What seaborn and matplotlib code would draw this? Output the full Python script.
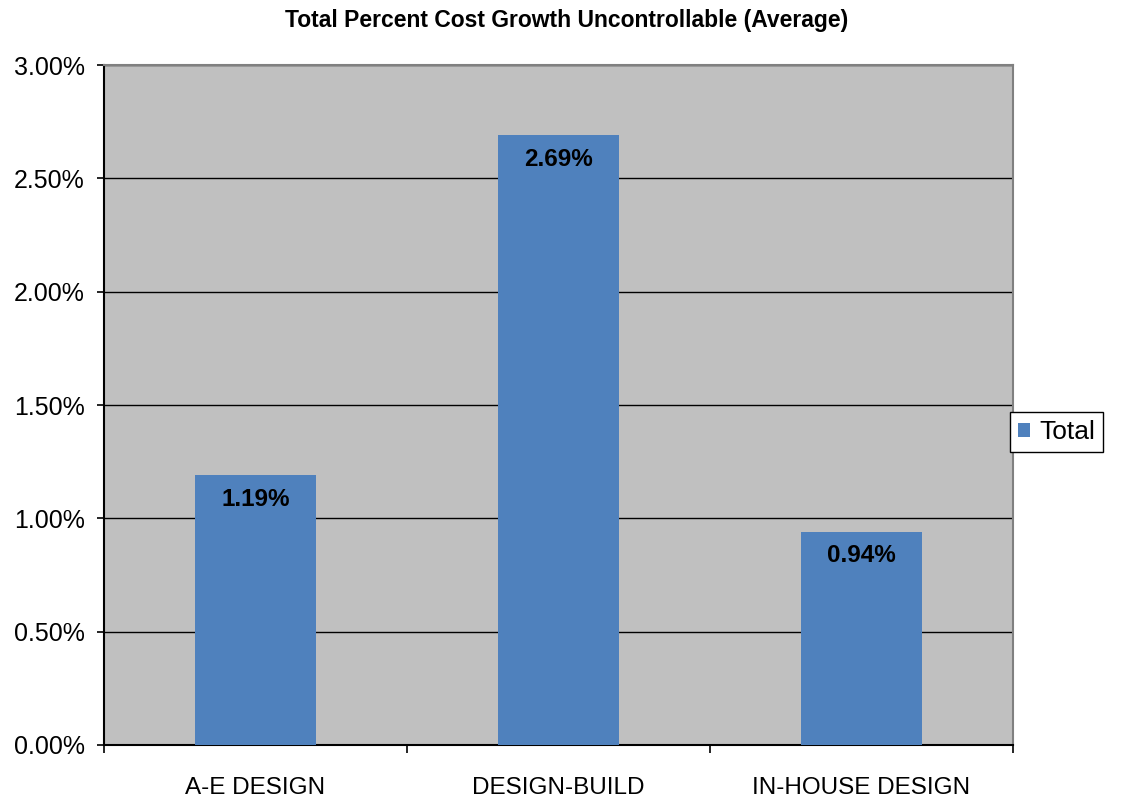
import pandas as pd
import matplotlib.pyplot as plt
import seaborn as sns
from matplotlib.ticker import FuncFormatter, MultipleLocator
from matplotlib.patches import Patch

# Data
categories = ['A-E DESIGN', 'DESIGN-BUILD', 'IN-HOUSE DESIGN']
totals = [1.19, 2.69, 0.94]
bar_labels = ['1.19%', '2.69%', '0.94%']

df = pd.DataFrame({'category': categories, 'total': totals})

sns.set_style('white')
plt.rcParams['font.family'] = ['Liberation Sans', 'DejaVu Sans']
plt.rcParams['text.color'] = 'black'
plt.rcParams['xtick.color'] = 'black'
plt.rcParams['ytick.color'] = 'black'

fig = plt.figure(figsize=(11.25, 7.98), dpi=100)
ax = fig.add_axes([104 / 1125, 1 - 745 / 798, (1013 - 104) / 1125, (745 - 65) / 798])
ax.set_facecolor('#C0C0C0')

sns.barplot(data=df, x='category', y='total', color='#4F81BD', width=0.4,
            saturation=1, linewidth=0, edgecolor='none', ax=ax, zorder=3)

# value labels inside the top of each bar
for i, (v, lab) in enumerate(zip(totals, bar_labels)):
    ax.text(i, v - 0.055, lab, ha='center', va='top', fontsize=17.5,
            fontweight='bold', color='black', zorder=4)

ax.set_ylim(0, 3.0)
ax.set_xlim(-0.5, 2.5)
ax.yaxis.set_major_locator(MultipleLocator(0.5))
ax.yaxis.set_major_formatter(FuncFormatter(lambda v, p: f'{v:.2f}%'))
ax.grid(axis='y', color='black', linewidth=1, zorder=1)
ax.set_axisbelow(True)

# ticks at category boundaries, labels at centres
ax.set_xticks([-0.5, 0.5, 1.5, 2.5])
ax.set_xticklabels([])
ax.set_xticks([0, 1, 2], minor=True)
ax.set_xticklabels(categories, minor=True, fontsize=17.5)
ax.tick_params(axis='x', which='major', direction='out', length=6, width=1.2,
               color='black', bottom=True)
ax.tick_params(axis='x', which='minor', length=0, pad=23)
ax.tick_params(axis='y', direction='out', length=5, width=1.2, color='black',
               left=True, labelsize=18, labelcolor='black', pad=9)
ax.set_xlabel('')
ax.set_ylabel('')

for side in ['left', 'bottom']:
    ax.spines[side].set_color('black')
    ax.spines[side].set_linewidth(1.5)
for side in ['top', 'right']:
    ax.spines[side].set_color('#808080')
    ax.spines[side].set_linewidth(1.5)

fig.text(0.5 * (283 + 850) / 1125, 1 - 20 / 798,
         'Total Percent Cost Growth Uncontrollable (Average)',
         ha='center', va='center', fontsize=16.5, fontweight='bold', color='black')

handles = [Patch(facecolor='#4F81BD', edgecolor='none', label='Total')]
fig.legend(handles=handles, loc='center left',
           bbox_to_anchor=(1010 / 1125, 1 - 432 / 798), fontsize=19,
           frameon=True, fancybox=False, edgecolor='black', framealpha=1,
           handlelength=0.45, handleheight=0.45, handletextpad=0.35,
           borderpad=0.3, borderaxespad=0, labelcolor='black')

fig.savefig('out.png', dpi=100)
